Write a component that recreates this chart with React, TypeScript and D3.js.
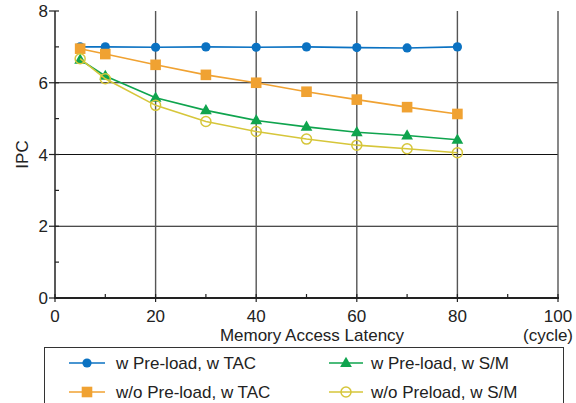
import React from "react";
import * as d3 from "d3";

const latency = [5, 10, 20, 30, 40, 50, 60, 70, 80];
const preloadTac = [7.0, 7.0, 6.99, 7.0, 6.99, 7.0, 6.98, 6.97, 7.0];
const noPreloadTac = [6.95, 6.8, 6.5, 6.22, 6.0, 5.75, 5.53, 5.32, 5.13];
const preloadSM = [6.64, 6.19, 5.58, 5.23, 4.95, 4.77, 4.62, 4.53, 4.41];
const noPreloadSM = [6.67, 6.11, 5.37, 4.92, 4.64, 4.43, 4.26, 4.16, 4.05];
const xTicks = [0, 20, 40, 60, 80, 100];
const xMinor = [10, 30, 50, 70, 90];
const yTicks = [0, 2, 4, 6, 8];
const yMinor = [1, 3, 5, 7];

const series = [
  { name: "w Pre-load, w TAC", values: preloadTac, color: "#0b72c2", marker: "dot" },
  { name: "w/o Pre-load, w TAC", values: noPreloadTac, color: "#f0a232", marker: "square" },
  { name: "w Pre-load, w S/M", values: preloadSM, color: "#0fa44e", marker: "triangle" },
  { name: "w/o Preload, w S/M", values: noPreloadSM, color: "#d6c63a", marker: "ring" },
];

const font = "'Liberation Sans', Arial, sans-serif";
const fs = 17;

function Marker({ type, x, y, color }: { type: string; x: number; y: number; color: string }) {
  if (type === "dot") return <circle cx={x} cy={y} r={4.6} fill={color} />;
  if (type === "square") return <rect x={x - 5.3} y={y - 5.3} width={10.6} height={10.6} fill={color} />;
  if (type === "triangle") {
    const p = d3.symbol().type(d3.symbolTriangle).size(60)();
    return <path d={p || ""} transform={`translate(${x},${y + 0.5})`} fill={color} />;
  }
  return <circle cx={x} cy={y} r={5} fill="none" stroke={color} strokeWidth={1.5} />;
}

export default function App() {
  const x = d3.scaleLinear().domain([0, 100]).range([55, 558]);
  const y = d3.scaleLinear().domain([0, 8]).range([298, 11]);
  const line = d3
    .line<number>()
    .x((_, i) => x(latency[i]))
    .y((v) => y(v));

  return (
    <svg width={576} height={403} style={{ position: "absolute", left: 0, top: 0, background: "#fff" }} fontFamily={font}>
      {/* grid */}
      {yTicks.slice(1, 4).map((t) => (
        <line key={"gy" + t} x1={x(0)} x2={x(100)} y1={y(t)} y2={y(t)} stroke="#111" strokeWidth={1} />
      ))}
      {xTicks.slice(1).map((t) => (
        <line key={"gx" + t} x1={x(t)} x2={x(t)} y1={y(0)} y2={y(8)} stroke="#555" strokeWidth={1.4} />
      ))}

      {/* axes */}
      <line x1={x(0)} x2={x(0)} y1={y(0)} y2={y(8)} stroke="#222" strokeWidth={1.5} />
      <line x1={x(0) - 1} x2={x(100) + 1} y1={y(0)} y2={y(0)} stroke="#222" strokeWidth={2} />
      {yTicks.map((t) => (
        <g key={"yt" + t}>
          <line x1={x(0) - 6} x2={x(0) + 4} y1={y(t)} y2={y(t)} stroke="#222" strokeWidth={1.2} />
          <text x={x(0) - 7} y={y(t)} dy="0.36em" textAnchor="end" fontSize={fs} fill="#222">
            {t}
          </text>
        </g>
      ))}
      {yMinor.map((t) => (
        <line key={"ym" + t} x1={x(0)} x2={x(0) + 4} y1={y(t)} y2={y(t)} stroke="#222" strokeWidth={1.2} />
      ))}
      {xTicks.map((t) => (
        <g key={"xt" + t}>
          <line x1={x(t)} x2={x(t)} y1={y(0) - 4} y2={y(0) + 4} stroke="#222" strokeWidth={1.2} />
          <text x={x(t)} y={y(0) + 24} textAnchor="middle" fontSize={fs} fill="#222">
            {t}
          </text>
        </g>
      ))}
      {xMinor.map((t) => (
        <line key={"xm" + t} x1={x(t)} x2={x(t)} y1={y(0) - 4} y2={y(0)} stroke="#222" strokeWidth={1.2} />
      ))}

      <text transform={`translate(28,${y(4)}) rotate(-90)`} textAnchor="middle" fontSize={fs} fill="#222">
        IPC
      </text>
      <text x={312} y={341} textAnchor="middle" fontSize={fs} fill="#222">
        Memory Access Latency
      </text>
      <text x={548} y={341} textAnchor="middle" fontSize={fs} fill="#222">
        (cycle)
      </text>

      {/* series */}
      {series.map((s) => (
        <g key={s.name}>
          <path d={line(s.values) || ""} fill="none" stroke={s.color} strokeWidth={1.6} />
          {s.values.map((v, i) => (
            <Marker key={i} type={s.marker} x={x(latency[i])} y={y(v)} color={s.color} />
          ))}
        </g>
      ))}

      {/* legend */}
      <rect x={44.5} y={347.5} width={519} height={70} fill="#fff" stroke="#333" strokeWidth={1} />
      {series.map((s, i) => {
        const col = i < 2 ? 0 : 1;
        const row = i % 2;
        const lx = col === 0 ? 69 : 329;
        const lw = col === 0 ? 36 : 34;
        const ly = 363 + row * 29;
        const tx = col === 0 ? 116 : 371;
        return (
          <g key={"lg" + s.name}>
            <line x1={lx} x2={lx + lw} y1={ly} y2={ly} stroke={s.color} strokeWidth={1.6} />
            <Marker type={s.marker} x={lx + lw / 2} y={ly} color={s.color} />
            <text x={tx} y={ly} dy="0.36em" fontSize={fs} fill="#222">
              {s.name}
            </text>
          </g>
        );
      })}
    </svg>
  );
}
